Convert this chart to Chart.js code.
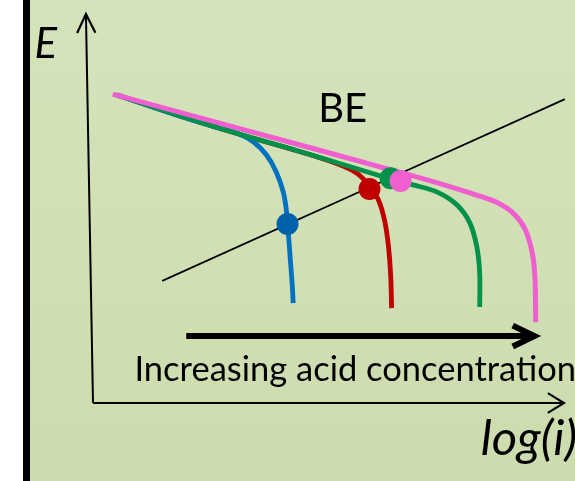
<!DOCTYPE html>
<html>
<head>
<meta charset="utf-8">
<script src="https://cdn.jsdelivr.net/npm/chart.js@4.4.1/dist/chart.umd.min.js"></script>
<style>
  html,
  body {
    margin: 0;
    padding: 0;
    background: #fff;
  }
  canvas {
    display: block;
  }
</style>
</head>
<body>
<canvas id="polarization" width="575" height="481"></canvas>
<script>
// values, both axes run 0..10 (no units on the original)
const blueLogI = [0.51, 1.83, 2.67, 3.09, 3.41, 3.68, 3.89, 4.04, 4.11, 4.15, 4.19, 4.23, 4.25];
const blueE = [7.92, 7.38, 7.07, 6.92, 6.71, 6.38, 5.94, 5.42, 4.91, 4.32, 3.68, 3.03, 2.57];

const redLogI = [0.51, 2.67, 4.78, 5.31, 5.62, 5.87, 6.06, 6.19, 6.27, 6.32, 6.34];
const redE = [7.92, 7.07, 6.32, 6.09, 5.89, 5.58, 5.22, 4.7, 4.06, 3.29, 2.44];

const greenLogI = [0.51, 2.67, 4.36, 6.04, 6.82, 7.31, 7.73, 8.0, 8.15, 8.21, 8.21];
const greenE = [7.92, 7.07, 6.48, 5.86, 5.6, 5.42, 5.09, 4.63, 4.01, 3.34, 2.47];

const pinkLogI = [0.42, 3.31, 6.19, 7.31, 8.21, 8.6, 8.92, 9.16, 9.31, 9.38, 9.4];
const pinkE = [7.94, 6.99, 6.04, 5.66, 5.32, 5.14, 4.88, 4.5, 3.95, 3.3, 2.08];

// anodic (metal oxidation) line
const anodicLogI = [1.47, 10.02];
const anodicE = [3.14, 7.81];

// corrosion points: blue, red, green, pink
const corrLogI = [4.13, 5.87, 6.32, 6.53];
const corrE = [4.6, 5.5, 5.78, 5.71];

// axes and the "increasing acid" arrow
const yAxisLogI = [0, -0.15];
const yAxisE = [0, 10.0];
const xAxisLogI = [0, 10.0];
const xAxisE = [0, 0];
const acidArrowLogI = [1.98, 9.37];
const acidArrowE = [1.72, 1.72];

function toPoints(xs, ys) {
  return xs.map((x, i) => ({ x: x, y: ys[i] }));
}

const labels = [
  { text: "E", x: -1.24, y: 8.87, font: "italic 42px Lato" },
  { text: "BE", x: 4.78, y: 7.22, font: "40px Lato" },
  { text: "Increasing acid concentration", x: 0.88, y: 0.57, font: "34.5px Lato" },
  { text: "log(i)", x: 8.23, y: -1.34, font: "italic 49px Lato" },
];

const backgroundPlugin = {
  id: "background",
  beforeDraw(chart) {
    const { ctx, width, height } = chart;
    ctx.save();
    ctx.fillStyle = "#fff";
    ctx.fillRect(0, 0, width, height);
    ctx.fillStyle = "#000";
    ctx.fillRect(23, 0, 7, height);
    const grad = ctx.createLinearGradient(0, 0, 0, height);
    grad.addColorStop(0, "#d5e3bb");
    grad.addColorStop(1, "#cddcae");
    ctx.fillStyle = grad;
    ctx.fillRect(30, 0, width - 30, height);
    ctx.restore();
  },
};

const arrowPlugin = {
  id: "arrowHeads",
  afterDatasetsDraw(chart) {
    const { ctx } = chart;
    chart.data.datasets.forEach((dataset, index) => {
      if (!dataset.arrowHead) return;
      const points = chart.getDatasetMeta(index).data;
      const tip = points[points.length - 1];
      const prev = points[points.length - 2];
      const angle = Math.atan2(tip.y - prev.y, tip.x - prev.x);
      const { length, spread, width } = dataset.arrowHead;
      ctx.save();
      ctx.strokeStyle = dataset.borderColor;
      ctx.lineWidth = width;
      ctx.lineJoin = "miter";
      ctx.beginPath();
      ctx.moveTo(
        tip.x - length * Math.cos(angle - spread),
        tip.y - length * Math.sin(angle - spread)
      );
      ctx.lineTo(tip.x, tip.y);
      ctx.lineTo(
        tip.x - length * Math.cos(angle + spread),
        tip.y - length * Math.sin(angle + spread)
      );
      ctx.stroke();
      ctx.restore();
    });
  },
};

const labelPlugin = {
  id: "labels",
  afterDraw(chart) {
    const { ctx } = chart;
    const { x, y } = chart.scales;
    ctx.save();
    ctx.fillStyle = "#000";
    ctx.textBaseline = "alphabetic";
    labels.forEach((label) => {
      ctx.font = label.font;
      ctx.fillText(label.text, x.getPixelForValue(label.x), y.getPixelForValue(label.y));
    });
    ctx.restore();
  },
};

function curve(data, color, width, order) {
  return {
    data: data,
    showLine: true,
    borderColor: color,
    borderWidth: width,
    borderJoinStyle: "round",
    pointRadius: 0,
    tension: 0.35,
    clip: false,
    order: order,
  };
}

const datasets = [
  {
    data: toPoints(corrLogI, corrE),
    showLine: false,
    pointRadius: 11,
    pointBorderWidth: 0,
    pointBackgroundColor: ["#0062ad", "#c00000", "#00914a", "#ef5fd0"],
    clip: false,
    order: 0,
  },
  curve(toPoints(anodicLogI, anodicE), "#000", 1.8, 1),
  curve(toPoints(pinkLogI, pinkE), "#ef5fd0", 5, 2),
  curve(toPoints(greenLogI, greenE), "#00914a", 4.8, 3),
  curve(toPoints(blueLogI, blueE), "#0070c0", 4.8, 4),
  curve(toPoints(redLogI, redE), "#c00000", 4.8, 5),
  Object.assign(curve(toPoints(yAxisLogI, yAxisE), "#000", 2, 6), {
    tension: 0,
    arrowHead: { length: 21, spread: 0.45, width: 2.2 },
  }),
  Object.assign(curve(toPoints(xAxisLogI, xAxisE), "#000", 2, 6), {
    tension: 0,
    arrowHead: { length: 19, spread: 0.55, width: 2.2 },
  }),
  Object.assign(curve(toPoints(acidArrowLogI, acidArrowE), "#000", 6, 6), {
    tension: 0,
    arrowHead: { length: 24, spread: 0.45, width: 6 },
  }),
];

new Chart(document.getElementById("polarization"), {
  type: "scatter",
  data: { datasets: datasets },
  options: {
    responsive: false,
    animation: false,
    devicePixelRatio: 1,
    layout: {
      padding: { left: 93, right: 7, top: 14, bottom: 78 },
    },
    scales: {
      x: { type: "linear", min: 0, max: 10, display: false },
      y: { type: "linear", min: 0, max: 10, display: false },
    },
    plugins: {
      legend: { display: false },
      tooltip: { enabled: false },
    },
  },
  plugins: [backgroundPlugin, arrowPlugin, labelPlugin],
});
</script>
</body>
</html>
